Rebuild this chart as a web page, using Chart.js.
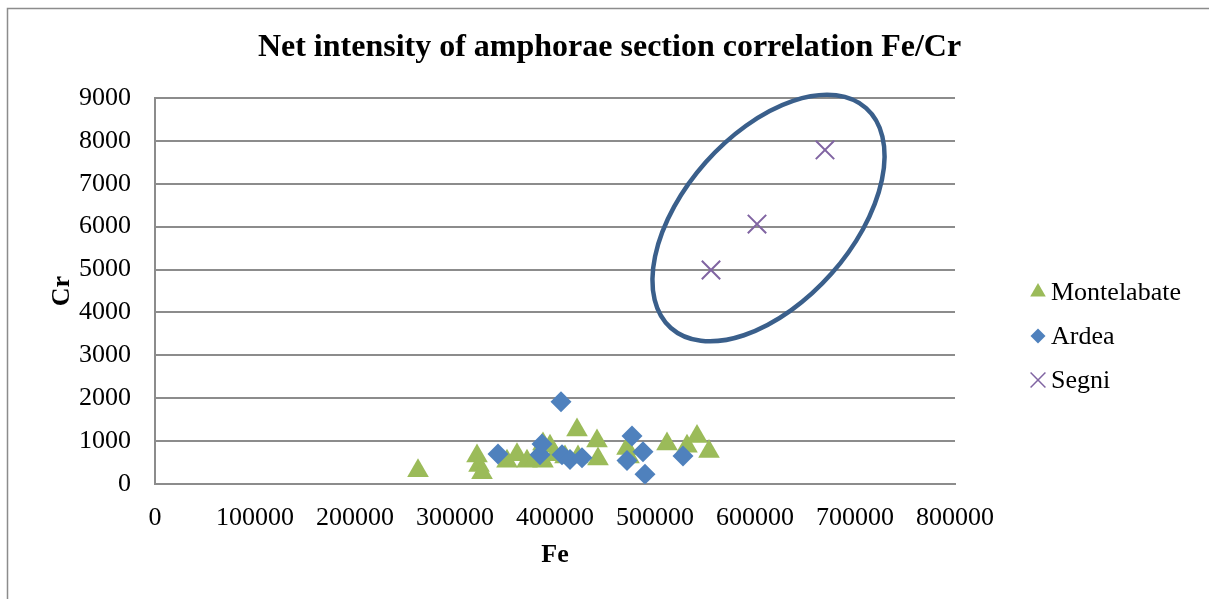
<!DOCTYPE html>
<html>
<head>
<meta charset="utf-8">
<script src="https://cdn.jsdelivr.net/npm/chart.js@4.4.1/dist/chart.umd.min.js"></script>
<style>
  html, body { margin: 0; padding: 0; background: #fff; }
  canvas { display: block; }
</style>
</head>
<body>
<canvas id="myChart" width="1209" height="599"></canvas>
<script>
// Dati (Fe, Cr)
const chartTitle = 'Net intensity of amphorae section correlation Fe/Cr';
const seriesNames = ['Montelabate', 'Ardea', 'Segni'];

const montelabateFe = [263000, 322000, 324000, 327000, 352000, 362000, 372000, 380000, 388000, 388000, 395000, 400000, 410000, 422000, 423000, 442000, 443000, 472000, 474000, 512000, 532000, 542000, 554000];
const montelabateCr = [310, 650, 430, 260, 530, 680, 530, 550, 530, 930, 880, 680, 630, 1260, 630, 1000, 580, 830, 630, 930, 880, 1110, 760];

const ardeaFe = [343000, 385000, 387000, 406000, 407000, 415000, 427000, 472000, 477000, 488000, 490000, 528000];
const ardeaCr = [700, 680, 930, 1920, 680, 570, 610, 550, 1120, 750, 230, 650];

const segniFe = [556000, 602000, 670000];
const segniCr = [4990, 6060, 7790];

const xTicks = [0, 100000, 200000, 300000, 400000, 500000, 600000, 700000, 800000];
const yTicks = [0, 1000, 2000, 3000, 4000, 5000, 6000, 7000, 8000, 9000];

// ellisse che evidenzia Segni (centro in unità dati)
const ellipseCenter = { x: 613500, y: 6200 };

function toPoints(xs, ys) {
    return xs.map((x, i) => ({ x: x, y: ys[i] }));
}

const fontFamily = "'Liberation Serif', 'Times New Roman', serif";

// cornice, titolo, ellisse e legenda
const extraPlugin = {
    id: 'extra',
    beforeDraw(chart) {
        const ctx = chart.ctx;
        ctx.save();
        ctx.fillStyle = '#ffffff';
        ctx.fillRect(0, 0, chart.width, chart.height);
        ctx.strokeStyle = '#8c8c8c';
        ctx.lineWidth = 1.5;
        ctx.strokeRect(7.5, 8.5, chart.width + 20, chart.height + 20);
        ctx.restore();
    },
    afterDatasetsDraw(chart) {
        const ctx = chart.ctx;
        const cx = chart.scales.x.getPixelForValue(ellipseCenter.x);
        const cy = chart.scales.y.getPixelForValue(ellipseCenter.y);
        ctx.save();
        ctx.beginPath();
        ctx.ellipse(cx, cy, 147, 84, -48.4 * Math.PI / 180, 0, Math.PI * 2);
        ctx.strokeStyle = '#3a5f8b';
        ctx.lineWidth = 4.5;
        ctx.stroke();
        ctx.restore();
    },
    afterDraw(chart) {
        const ctx = chart.ctx;
        const area = chart.chartArea;

        // titolo centrato sull'intera figura
        ctx.save();
        ctx.fillStyle = '#000';
        ctx.font = 'bold 32px ' + fontFamily;
        ctx.textAlign = 'center';
        ctx.textBaseline = 'middle';
        ctx.fillText(chartTitle, chart.width / 2 + 5, 48);
        ctx.restore();

        // legenda disegnata a mano
        const x0 = area.right + 83;
        const y0 = 291;
        const legendStyles = [
            { pointStyle: 'triangle', radius: 9, color: '#9bbb59' },
            { pointStyle: 'rectRot', radius: 7.5, color: '#4f81bd' },
            { pointStyle: 'crossRot', radius: 10.5, color: '#8064a2' }
        ];
        ctx.save();
        ctx.font = '26px ' + fontFamily;
        ctx.textBaseline = 'middle';
        seriesNames.forEach((name, i) => {
            const y = y0 + i * 44;
            const st = legendStyles[i];
            ctx.fillStyle = st.color;
            ctx.strokeStyle = st.color;
            ctx.lineWidth = 1.5;
            Chart.helpers.drawPoint(ctx, { pointStyle: st.pointStyle, radius: st.radius, rotation: 0, borderWidth: st.pointStyle === 'crossRot' ? 1.5 : 0 }, x0, y + 1);
            ctx.fillStyle = '#000';
            ctx.fillText(name, x0 + 13, y + 2);
        });
        ctx.restore();
    }
};

const ctx = document.getElementById('myChart');
const myChart = new Chart(ctx, {
    type: 'scatter',
    data: {
        datasets: [
            {
                label: seriesNames[0],
                data: toPoints(montelabateFe, montelabateCr),
                pointStyle: 'triangle',
                pointRadius: 12.5,
                backgroundColor: '#9bbb59',
                borderColor: '#9bbb59',
                borderWidth: 0,
                order: 2
            },
            {
                label: seriesNames[1],
                data: toPoints(ardeaFe, ardeaCr),
                pointStyle: 'rectRot',
                pointRadius: 10.5,
                backgroundColor: '#4f81bd',
                borderColor: '#4f81bd',
                borderWidth: 0,
                order: 0
            },
            {
                label: seriesNames[2],
                data: toPoints(segniFe, segniCr),
                pointStyle: 'crossRot',
                pointRadius: 13,
                backgroundColor: '#8064a2',
                borderColor: '#8064a2',
                borderWidth: 2,
                order: 1
            }
        ]
    },
    options: {
        responsive: false,
        animation: false,
        layout: { padding: { left: 0, right: 254, top: 98, bottom: 0 } },
        plugins: {
            legend: { display: false },
            tooltip: { enabled: false },
            title: { display: false }
        },
        scales: {
            x: {
                type: 'linear',
                min: 0,
                max: 800000,
                afterFit: s => { s.height = 115; },
                afterBuildTicks: s => { s.ticks = xTicks.map(v => ({ value: v })); },
                grid: { display: false, drawTicks: false },
                border: { display: true, color: '#8c8c8c', width: 2 },
                ticks: {
                    color: '#000',
                    padding: 19,
                    maxRotation: 0,
                    font: { family: fontFamily, size: 26 },
                    callback: v => String(v)
                },
                title: {
                    display: true,
                    text: 'Fe',
                    color: '#000',
                    font: { family: fontFamily, size: 26, weight: 'bold' },
                    padding: { top: 0, bottom: 28.4 }
                }
            },
            y: {
                type: 'linear',
                min: 0,
                max: 9000,
                afterFit: s => { s.width = 155; },
                afterBuildTicks: s => { s.ticks = yTicks.map(v => ({ value: v })); },
                grid: { color: '#8c8c8c', lineWidth: 2, drawTicks: false },
                border: { display: true, color: '#8c8c8c', width: 2 },
                ticks: {
                    color: '#000',
                    padding: 24,
                    font: { family: fontFamily, size: 26 },
                    callback: v => String(v)
                },
                title: {
                    display: true,
                    text: 'Cr',
                    color: '#000',
                    font: { family: fontFamily, size: 26, weight: 'bold' },
                    padding: { top: 46.4, bottom: 0 }
                }
            }
        }
    },
    plugins: [extraPlugin]
});
</script>
</body>
</html>
